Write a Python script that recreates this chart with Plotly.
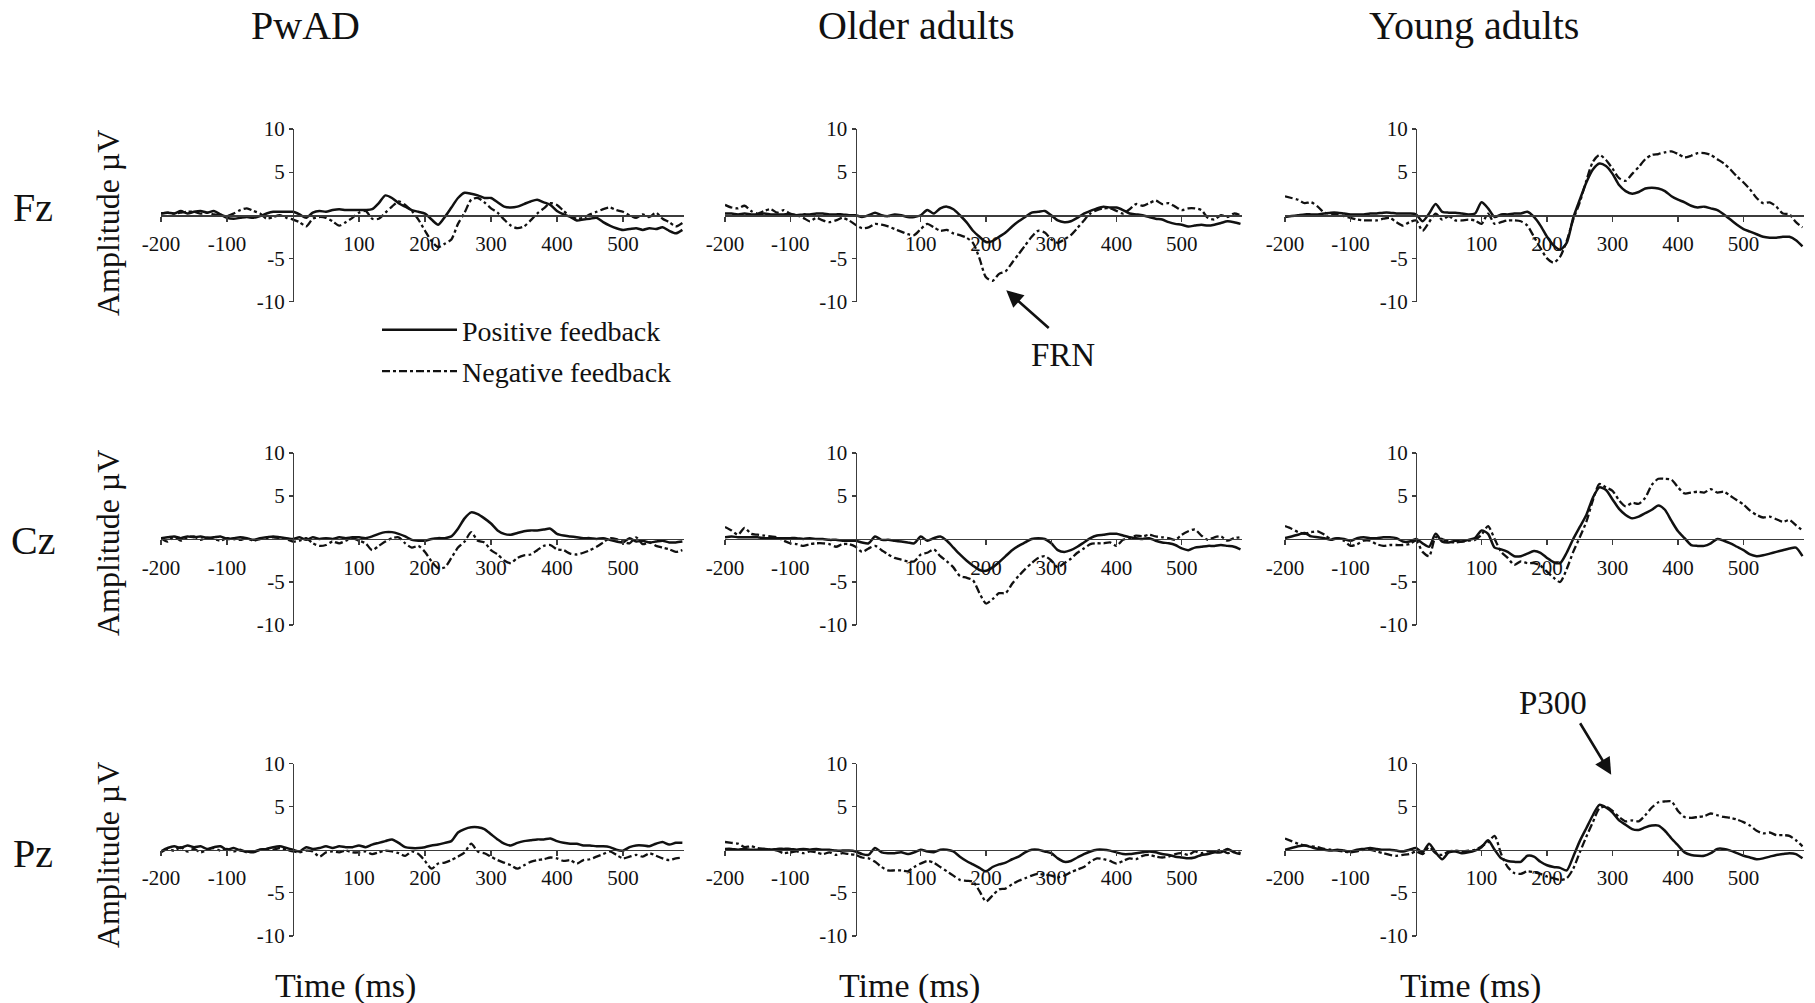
import plotly.graph_objects as go

W, H = 1815, 1003

# ---------------- data (amplitude in microvolts, every 10 ms) ----------------
time_ms = list(range(-200, 600, 10))

fz_pwad_pos = [0.2, 0.3, 0.2, 0.5, 0.2, 0.4, 0.5, 0.3, 0.5, 0.1,
               -0.3, -0.4, -0.3, -0.2, -0.3, -0.1, 0.2, 0.4, 0.4, 0.4,
               0.4, 0.1, -0.3, 0.3, 0.5, 0.4, 0.6, 0.7, 0.6, 0.6,
               0.6, 0.6, 0.7, 1.4, 2.3, 2.0, 1.4, 1.0, 0.6, 0.4,
               0.2, -0.5, -1.1, -0.2, 0.9, 2.0, 2.6, 2.5, 2.3, 2.0,
               2.0, 1.5, 1.0, 0.9, 1.0, 1.3, 1.6, 1.8, 1.5, 1.2,
               0.5, 0.1, -0.2, -0.6, -0.5, -0.4, -0.3, -0.8, -1.2, -1.5,
               -1.7, -1.6, -1.5, -1.7, -1.5, -1.6, -1.4, -1.8, -2.1, -1.7]
fz_pwad_neg = [0.2, 0.3, 0.2, 0.3, 0.4, 0.4, 0.2, 0.3, 0.1, 0.0,
               -0.1, 0.2, 0.6, 0.8, 0.5, 0.2, -0.4, -0.2, 0.0, -0.3,
               -0.5, -0.8, -1.3, -0.4, -0.2, -0.3, -0.7, -1.2, -0.8, -0.3,
               0.3, 0.5, -0.4, -0.4, 0.3, 1.0, 1.6, 1.2, 0.5, -0.5,
               -1.8, -3.0, -3.7, -3.3, -2.8, -1.0, 0.3, 1.8, 2.0, 1.5,
               0.8, 0.3, -0.5, -1.2, -1.5, -1.3, -0.6, 0.2, 0.8, 1.4,
               1.2, 0.5, -0.1, -0.4, -0.3, 0.1, 0.4, 0.7, 0.9, 0.6,
               0.4, 0.0, -0.3, 0.1, -0.2, 0.3, -0.4, -0.8, -1.3, -0.9]

fz_old_pos = [0.2, 0.2, 0.1, 0.2, 0.1, 0.1, 0.2, 0.1, 0.1, 0.1,
              0.1, 0.0, 0.1, 0.1, 0.2, 0.2, 0.1, 0.1, 0.1, 0.0,
              0.0, -0.2, 0.0, 0.3, 0.0, -0.1, 0.1, 0.0, -0.2, -0.2,
              0.0, 0.6, 0.2, 0.8, 1.0, 0.7, 0.0, -0.8, -1.8, -2.5,
              -3.1, -3.0, -2.5, -2.0, -1.3, -0.7, -0.2, 0.3, 0.4, 0.5,
              0.0, -0.6, -0.8, -0.7, -0.3, 0.2, 0.5, 0.8, 1.0, 0.9,
              0.9, 0.6, 0.2, 0.1, 0.0, -0.2, -0.4, -0.5, -0.8, -1.0,
              -1.1, -1.3, -1.2, -1.1, -1.2, -1.1, -0.9, -0.7, -0.8, -1.0]
fz_old_neg = [1.2, 0.9, 0.8, 1.1, 0.5, 0.2, 0.5, 0.7, 0.3, 0.6,
              0.2, 0.0, -0.3, -0.7, -0.3, -0.6, -0.8, -0.6, -0.3, -0.6,
              -1.1, -1.5, -1.4, -1.0, -1.1, -1.3, -1.6, -1.9, -2.2, -2.3,
              -1.6, -1.0, -1.4, -1.8, -1.7, -2.1, -2.3, -2.6, -3.2, -5.0,
              -7.2, -7.6, -6.8, -6.5, -5.5, -4.5, -3.5, -2.5, -1.8, -2.0,
              -2.8, -3.2, -2.8, -2.3, -1.5, -0.6, 0.2, 0.6, 0.8, 0.8,
              0.5, 0.2, 0.7, 1.3, 1.1, 1.4, 1.7, 1.3, 1.4, 1.0,
              0.6, 0.8, 0.8, 0.6, -0.3, -0.5, 0.0, -0.2, 0.2, 0.0]

fz_young_pos = [-0.2, -0.1, 0.0, 0.1, 0.1, 0.1, 0.2, 0.3, 0.3, 0.2,
                0.1, 0.1, 0.1, 0.2, 0.2, 0.3, 0.3, 0.2, 0.2, 0.2,
                0.1, -0.7, 0.2, 1.3, 0.4, 0.3, 0.3, 0.2, 0.1, 0.2,
                1.5, 0.8, -0.2, 0.1, 0.1, 0.2, 0.2, 0.4, -0.2, -1.2,
                -2.5, -3.5, -4.0, -3.2, -0.3, 1.8, 3.8, 5.3, 6.0, 5.7,
                4.8, 3.5, 2.8, 2.5, 2.7, 3.1, 3.2, 3.1, 2.8, 2.2,
                1.8, 1.5, 1.1, 0.9, 1.0, 0.8, 0.6, 0.1, -0.5, -1.1,
                -1.6, -1.9, -2.2, -2.5, -2.6, -2.6, -2.5, -2.5, -2.9, -3.6]
fz_young_neg = [2.2, 2.0, 1.8, 1.4, 1.5, 1.0, 0.3, 0.2, 0.1, -0.1,
                -0.3, -0.5, -0.6, -0.6, -0.6, -0.4, -0.3, -0.8, -1.2, -0.8,
                -0.6, -1.8, -0.8, 0.2, -0.5, -0.1, -0.6, -0.6, -0.5, -0.6,
                -1.0, 0.2, -1.0, -0.8, -0.6, -0.6, -0.7, -1.2, -2.5, -3.8,
                -5.0, -5.5, -4.8, -3.0, -0.5, 1.5, 4.0, 6.2, 7.0, 6.4,
                5.4, 4.3, 4.0, 4.8, 5.6, 6.5, 7.0, 7.1, 7.3, 7.4,
                7.1, 6.7, 6.9, 7.2, 7.2, 7.0, 6.5, 6.0, 5.3, 4.5,
                3.8, 3.0, 2.0, 1.4, 1.5, 1.0, 0.2, 0.1, -0.8, -1.4]

cz_pwad_pos = [0.1, 0.2, 0.3, 0.1, 0.3, 0.2, 0.3, 0.1, 0.2, 0.3,
               0.0, 0.1, 0.2, 0.1, -0.1, 0.1, 0.2, 0.3, 0.2, 0.1,
               0.0, 0.2, -0.1, 0.2, 0.0, 0.1, 0.0, 0.2, 0.1, 0.2,
               0.2, 0.1, 0.3, 0.6, 0.8, 0.8, 0.6, 0.3, -0.1, -0.2,
               -0.2, 0.0, 0.1, 0.1, 0.3, 1.2, 2.4, 3.1, 2.9, 2.4,
               1.8, 1.0, 0.6, 0.5, 0.7, 0.9, 1.0, 1.0, 1.1, 1.2,
               0.6, 0.4, 0.3, 0.2, 0.1, 0.1, 0.0, 0.1, -0.1, -0.3,
               -0.4, 0.1, -0.3, -0.2, -0.4, -0.3, -0.2, -0.4, -0.4, -0.3]
cz_pwad_neg = [0.1, -0.3, 0.3, -0.2, 0.2, 0.3, -0.1, 0.2, 0.0, -0.2,
               0.1, 0.0, -0.1, 0.1, -0.2, 0.0, 0.1, 0.2, 0.1, 0.0,
               -0.3, -0.2, 0.1, -0.5, -0.8, -0.7, -0.3, -0.5, -0.2, 0.1,
               -0.2, -0.5, -1.3, -0.8, -0.3, 0.1, 0.2, -0.5, -1.0, -0.8,
               -1.5, -2.6, -3.4, -3.3, -2.2, -1.0, -0.3, 0.8, -0.2, -0.4,
               -1.3, -1.8, -2.5, -2.8, -2.2, -1.9, -1.8, -1.3, -0.8, -0.7,
               -1.2, -1.3, -1.7, -1.8, -1.6, -1.3, -0.9, -0.4, 0.1, 0.0,
               -0.3, -0.5, 0.2, -0.6, -0.4, -0.8, -1.0, -1.2, -1.5, -1.3]

cz_old_pos = [0.2, 0.3, 0.2, 0.2, 0.2, 0.2, 0.1, 0.1, 0.1, 0.1,
              0.1, 0.1, 0.0, 0.1, 0.0, 0.0, -0.1, -0.1, -0.2, -0.2,
              -0.2, -0.4, -0.5, 0.3, -0.1, -0.1, -0.2, -0.3, -0.4, -0.5,
              0.3, -0.2, 0.1, 0.3, -0.2, -1.0, -1.8, -2.5, -3.1, -3.6,
              -3.7, -3.3, -2.7, -2.0, -1.3, -0.8, -0.4, 0.0, 0.1, 0.0,
              -0.5, -1.3, -1.5, -1.3, -0.9, -0.4, 0.1, 0.4, 0.5, 0.6,
              0.6, 0.4, 0.2, 0.1, 0.0, 0.1, -0.2, -0.4, -0.5, -0.7,
              -1.1, -1.3, -1.0, -0.9, -0.8, -0.8, -0.7, -0.8, -0.9, -1.2]
cz_old_neg = [1.4, 1.0, 0.5, 1.3, 0.6, 0.5, 0.4, 0.3, 0.2, -0.2,
              -0.5, -0.6, -0.8, -0.6, -0.5, -0.5, -0.6, -0.9, -0.6, -0.6,
              -0.9, -1.5, -1.1, -0.8, -1.3, -1.8, -2.2, -2.4, -2.6, -2.6,
              -1.8, -1.6, -1.2, -2.0, -2.6, -3.3, -4.3, -4.5, -4.8, -6.3,
              -7.5, -7.0, -6.3, -6.3, -5.2, -4.3, -3.5, -2.8, -2.2, -2.0,
              -2.5, -3.3, -2.8, -2.3, -1.6, -1.1, -0.6, -0.5, -0.5, -0.4,
              -0.8, -0.1, 0.1, 0.4, 0.3, 0.5, 0.3, 0.2, 0.1, -0.1,
              0.5, 0.9, 1.1, 0.4, -0.1, 0.2, 0.3, -0.2, 0.1, 0.2]

cz_young_pos = [0.1, 0.3, 0.5, 0.7, 0.3, 0.2, 0.1, -0.1, 0.1, 0.0,
                -0.2, 0.1, 0.2, 0.1, 0.1, 0.2, 0.2, 0.1, -0.3, -0.3,
                0.0, -0.5, -0.9, 0.6, -0.3, -0.4, -0.2, -0.3, -0.1, 0.1,
                1.0, 0.6, -1.0, -1.2, -1.5, -2.0, -2.0, -1.7, -1.4, -1.6,
                -2.2, -2.7, -2.8, -1.6, 0.0, 1.4, 2.8, 4.8, 6.0, 5.7,
                4.6, 3.5, 2.8, 2.4, 2.6, 3.0, 3.4, 3.9, 3.4, 2.1,
                0.9, 0.1, -0.7, -0.8, -0.8, -0.5, 0.0, -0.2, -0.5, -0.9,
                -1.3, -1.8, -2.0, -1.9, -1.7, -1.5, -1.3, -1.1, -1.0, -2.0]
cz_young_neg = [1.5, 1.2, 0.8, 0.6, 0.8, 0.9, 0.5, 0.0, 0.1, -0.2,
                -0.8, -0.6, -0.2, -0.2, -0.6, -0.8, -0.7, -0.7, -0.7, -0.6,
                -0.2, -1.5, -2.0, 0.2, 0.0, -0.3, -0.4, -0.3, -0.2, -0.1,
                0.5, 1.5, 0.0, -1.5, -2.2, -3.0, -2.6, -2.8, -2.8, -3.1,
                -3.8, -4.5, -5.0, -3.5, -1.5, 0.2, 2.0, 4.5, 6.4, 6.0,
                5.6, 4.5, 3.8, 4.2, 4.1, 4.8, 6.3, 7.0, 7.0, 6.9,
                6.0, 5.3, 5.4, 5.5, 5.4, 5.8, 5.4, 5.5, 5.0, 4.5,
                4.0, 3.3, 2.8, 2.5, 2.6, 2.3, 2.0, 2.2, 1.6, 1.0]

pz_pwad_pos = [-0.2, 0.2, 0.4, 0.2, 0.5, 0.3, 0.4, 0.1, 0.3, 0.4,
               0.0, 0.2, -0.1, -0.2, -0.3, 0.0, 0.1, 0.3, 0.4, 0.2,
               0.0, -0.2, 0.3, 0.1, 0.2, 0.4, 0.2, 0.4, 0.3, 0.3,
               0.5, 0.3, 0.6, 0.8, 1.0, 1.2, 0.8, 0.3, 0.2, 0.2,
               0.3, 0.5, 0.6, 0.8, 1.0, 2.0, 2.4, 2.6, 2.6, 2.4,
               1.8, 1.2, 0.7, 0.5, 0.8, 1.0, 1.1, 1.2, 1.2, 1.3,
               1.0, 0.8, 0.7, 0.7, 0.5, 0.5, 0.4, 0.4, 0.3, 0.0,
               -0.1, 0.3, 0.5, 0.5, 0.4, 0.7, 0.9, 0.6, 0.8, 0.8]
pz_pwad_neg = [-0.3, 0.1, -0.1, 0.3, -0.2, 0.1, -0.3, 0.0, 0.2, -0.1,
               0.1, -0.2, 0.0, -0.3, -0.2, 0.0, 0.1, 0.0, 0.2, 0.0,
               -0.2, -0.3, -0.1, -0.2, -0.8, -0.3, -0.2, -0.3, -0.1, -0.3,
               -0.3, -0.2, -0.5, -0.3, -0.1, -0.2, -0.4, -0.7, -0.2, -0.5,
               -1.3, -2.2, -1.6, -1.5, -1.2, -0.8, -0.3, 0.7, -0.2, -0.4,
               -0.8, -1.2, -1.5, -1.8, -2.2, -1.8, -1.4, -1.2, -1.1, -0.9,
               -1.0, -1.3, -1.2, -1.6, -1.2, -1.1, -0.8, -0.5, -0.2, -0.6,
               -1.0, -0.8, -0.6, -0.8, -0.4, -0.7, -1.0, -1.2, -1.0, -0.9]

pz_old_pos = [0.1, 0.1, 0.0, 0.1, 0.0, 0.0, 0.1, 0.0, 0.1, 0.1,
              0.1, 0.0, 0.1, 0.0, 0.1, 0.0, 0.0, -0.1, -0.1, -0.1,
              -0.2, -0.5, -0.6, 0.2, -0.3, -0.4, -0.4, -0.3, -0.5, -0.3,
              0.0, -0.2, -0.3, 0.0, 0.0, -0.2, -0.8, -1.3, -1.7, -2.1,
              -2.5, -2.0, -1.7, -1.5, -1.1, -0.8, -0.3, 0.0, 0.0, -0.2,
              -0.4, -1.0, -1.4, -1.3, -0.9, -0.5, -0.2, 0.0, 0.0, -0.1,
              -0.3, -0.5, -0.5, -0.4, -0.3, -0.2, -0.3, -0.5, -0.6, -0.8,
              -0.9, -1.0, -0.9, -0.6, -0.5, -0.3, -0.3, 0.1, -0.3, -0.5]
pz_old_neg = [0.9, 0.8, 0.7, 0.3, 0.4, 0.2, 0.1, 0.0, -0.1, -0.4,
              -0.3, -0.2, -0.4, -0.2, -0.3, -0.5, -0.3, -0.6, -0.4, -0.5,
              -0.6, -0.9, -1.0, -1.4, -2.0, -2.4, -2.4, -2.4, -2.5, -2.0,
              -1.6, -1.3, -1.5, -2.0, -2.5, -3.0, -3.5, -3.6, -3.7, -4.8,
              -6.0, -5.3, -4.6, -4.5, -4.0, -3.6, -3.3, -3.0, -2.8, -2.9,
              -3.0, -3.2, -3.0, -2.6, -2.3, -2.0, -1.4, -1.0, -1.1, -1.3,
              -1.6, -1.3, -1.0, -1.1, -0.7, -0.6, -0.8, -0.9, -0.8, -0.5,
              -0.4, -0.6, -0.2, -0.4, -0.2, -0.3, 0.0, -0.4, -0.2, -0.4]

pz_young_pos = [0.0, 0.2, 0.4, 0.5, 0.3, 0.1, 0.0, -0.1, 0.0, -0.1,
                -0.2, 0.0, 0.1, 0.2, 0.1, 0.0, 0.0, -0.1, -0.2, 0.0,
                0.2, -0.3, 0.7, -0.3, -1.1, -0.3, -0.2, -0.4, -0.3, -0.1,
                0.3, 1.1, 0.0, -1.0, -1.3, -1.4, -1.4, -0.7, -0.8, -1.4,
                -1.8, -2.0, -2.1, -2.4, -0.8, 1.0, 2.5, 4.0, 5.2, 4.9,
                4.3, 3.4, 2.9, 2.4, 2.3, 2.6, 2.8, 2.8, 2.2, 1.3,
                0.5, -0.3, -0.6, -0.7, -0.7, -0.4, 0.1, 0.1, -0.1, -0.4,
                -0.7, -0.9, -1.1, -1.0, -0.8, -0.6, -0.5, -0.4, -0.5, -1.0]
pz_young_neg = [1.3, 1.0, 0.7, 0.5, 0.4, 0.3, 0.1, 0.0, -0.1, -0.2,
                -0.3, -0.2, 0.0, 0.0, -0.2, -0.4, -0.6, -0.7, -0.6, -0.5,
                -0.2, -0.5, 0.3, -0.4, -0.6, -0.2, -0.1, -0.2, -0.1, 0.0,
                0.4, 0.9, 1.6, -0.5, -2.0, -2.7, -2.8, -2.5, -2.6, -2.8,
                -3.1, -3.3, -3.5, -3.3, -2.2, -0.3, 1.5, 3.2, 4.8, 5.0,
                4.5, 3.8, 3.3, 3.4, 3.3, 4.0, 4.9, 5.5, 5.6, 5.6,
                4.5, 3.8, 3.7, 3.8, 3.9, 4.2, 4.0, 3.8, 3.7, 3.5,
                3.2, 2.8, 2.2, 1.9, 2.0, 1.7, 1.7, 1.6, 1.1, 0.4]

groups = ["PwAD", "Older adults", "Young adults"]
sites = ["Fz", "Cz", "Pz"]
series_names = ["Positive feedback", "Negative feedback"]
x_tickvals = [-200, -100, 100, 200, 300, 400, 500]
x_ticktext = ["-200", "-100", "100", "200", "300", "400", "500"]
y_tickvals = [-10, -5, 5, 10]
y_ticktext = ["-10", "-5", "5", "10"]

panels = [
    [(fz_pwad_pos, fz_pwad_neg), (fz_old_pos, fz_old_neg), (fz_young_pos, fz_young_neg)],
    [(cz_pwad_pos, cz_pwad_neg), (cz_old_pos, cz_old_neg), (cz_young_pos, cz_young_neg)],
    [(pz_pwad_pos, pz_pwad_neg), (pz_old_pos, pz_old_neg), (pz_young_pos, pz_young_neg)],
]

# ---------------- geometry (pixels) ----------------
x_range = [-200, 592]
y_range = [-10, 10]
col_px = [(161, 683.7), (725, 1241.8), (1285, 1803.8)]
row_px = [(129, 301.5), (453, 625), (763.5, 936)]

FONT = "Liberation Serif, Times New Roman, serif"
INK = "#111111"
AXIS = "#3c3c3c"


def px_x(p):
    return p / W


def px_y(p):
    return 1 - p / H


fig = go.Figure()
layout_axes = {}
for r in range(3):
    for c in range(3):
        i = r * 3 + c + 1
        xd = [px_x(col_px[c][0]), px_x(col_px[c][1])]
        yd = [px_y(row_px[r][1]), px_y(row_px[r][0])]
        # paper position of t = 0 and v = 0
        xpos = xd[0] + (0 - x_range[0]) / (x_range[1] - x_range[0]) * (xd[1] - xd[0])
        ypos = yd[0] + (0 - y_range[0]) / (y_range[1] - y_range[0]) * (yd[1] - yd[0])
        xs = "" if i == 1 else str(i)
        layout_axes["xaxis" + xs] = dict(
            domain=xd, range=x_range, anchor="free", position=ypos,
            automargin=False,
            showline=True, linecolor=AXIS, linewidth=1.3,
            showgrid=False, zeroline=False,
            ticks="outside", ticklen=5, tickwidth=1.2, tickcolor=AXIS,
            tickvals=x_tickvals, ticktext=x_ticktext,
            tickfont=dict(family=FONT, size=21, color=INK),
            ticklabelstandoff=4, fixedrange=True,
        )
        layout_axes["yaxis" + xs] = dict(
            domain=yd, range=y_range, anchor="free", position=xpos,
            automargin=False,
            showline=True, linecolor=AXIS, linewidth=1.3,
            showgrid=False, zeroline=False,
            ticks="outside", ticklen=4, tickwidth=1.2, tickcolor=AXIS,
            tickvals=y_tickvals, ticktext=y_ticktext,
            tickfont=dict(family=FONT, size=21, color=INK),
            fixedrange=True,
        )
        pos, neg = panels[r][c]
        first = (i == 1)
        fig.add_trace(go.Scatter(
            x=time_ms, y=pos, mode="lines", name=series_names[0],
            line=dict(color=INK, width=2.5, shape="spline", smoothing=0.7),
            xaxis="x" + xs, yaxis="y" + xs, showlegend=first,
            legendgroup="pos", hoverinfo="skip"))
        fig.add_trace(go.Scatter(
            x=time_ms, y=neg, mode="lines", name=series_names[1],
            line=dict(color=INK, width=2.3, dash="8px,3px,3px,3px",
                      shape="spline", smoothing=0.7),
            xaxis="x" + xs, yaxis="y" + xs, showlegend=first,
            legendgroup="neg", hoverinfo="skip"))

annotations = []
# column titles
for c, (g, xc) in enumerate(zip(groups, [305, 916, 1474])):
    annotations.append(dict(text=g, x=px_x(xc), y=px_y(26), xref="paper", yref="paper",
                            showarrow=False, xanchor="center", yanchor="middle",
                            font=dict(family=FONT, size=40, color=INK)))
# row labels and y titles
for r, (s, ys, ya) in enumerate(zip(sites, [208, 540, 853], [223, 543, 855])):
    annotations.append(dict(text=s, x=px_x(33), y=px_y(ys), xref="paper", yref="paper",
                            showarrow=False, xanchor="center", yanchor="middle",
                            font=dict(family=FONT, size=40, color=INK)))
    annotations.append(dict(text="Amplitude µV", x=px_x(108), y=px_y(ya), xref="paper",
                            yref="paper", showarrow=False, textangle=-90,
                            xanchor="center", yanchor="middle",
                            font=dict(family=FONT, size=32, color=INK)))
# x titles
for xc in [345, 909, 1470]:
    annotations.append(dict(text="Time (ms)", x=px_x(xc), y=px_y(986), xref="paper",
                            yref="paper", showarrow=False, xanchor="center",
                            yanchor="middle", font=dict(family=FONT, size=34, color=INK)))
# FRN arrow + label
annotations.append(dict(text="", x=231, y=-8.7, xref="x2", yref="y2", showarrow=True,
                        ax=44, ay=39, arrowhead=2, arrowsize=1.3, arrowwidth=2.6,
                        arrowcolor=INK, standoff=0))
annotations.append(dict(text="FRN", x=px_x(1063), y=px_y(355), xref="paper", yref="paper",
                        showarrow=False, xanchor="center", yanchor="middle",
                        font=dict(family=FONT, size=33, color=INK)))
# P300 arrow + label
annotations.append(dict(text="", x=298, y=8.7, xref="x9", yref="y9", showarrow=True,
                        ax=-32, ay=-53, arrowhead=2, arrowsize=1.3, arrowwidth=2.6,
                        arrowcolor=INK, standoff=0))
annotations.append(dict(text="P300", x=px_x(1553), y=px_y(703), xref="paper", yref="paper",
                        showarrow=False, xanchor="center", yanchor="middle",
                        font=dict(family=FONT, size=33, color=INK)))

fig.update_layout(
    width=W, height=H, margin=dict(l=0, r=0, t=0, b=0, autoexpand=False),
    paper_bgcolor="white", plot_bgcolor="rgba(0,0,0,0)",
    showlegend=True,
    legend=dict(x=px_x(377), y=px_y(305), xanchor="left", yanchor="top",
                font=dict(family=FONT, size=28, color=INK), itemwidth=75,
                bgcolor="rgba(0,0,0,0)", tracegroupgap=2, itemclick=False,
                itemdoubleclick=False),
    annotations=annotations,
    **layout_axes,
)

fig.write_html("out.html", config={"displayModeBar": False, "staticPlot": True},
               post_script="document.body.style.margin='0';document.body.style.overflow='hidden';")
